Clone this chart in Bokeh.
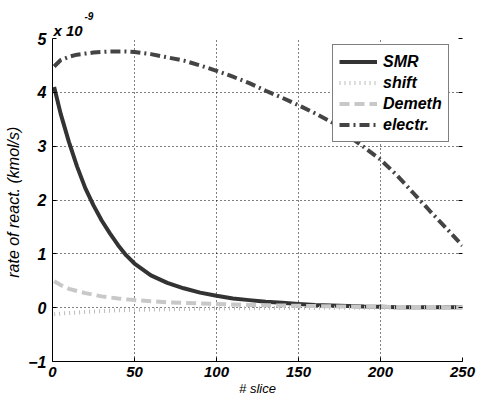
from bokeh.plotting import figure
from bokeh.models import Range1d, FixedTicker, LinearAxis, Legend, LegendItem, Title
from bokeh.embed import file_html
from bokeh.resources import INLINE

slices = [1, 5, 10, 15, 20, 25, 30, 35, 40, 45, 50, 60, 70, 80, 90, 100, 110, 120, 130,
          140, 150, 160, 170, 180, 190, 200, 210, 220, 230, 240, 250]
smr = [4.1, 3.6, 3.08, 2.62, 2.22, 1.9, 1.62, 1.38, 1.16, 0.97, 0.82, 0.6, 0.46, 0.36,
       0.28, 0.22, 0.17, 0.14, 0.11, 0.09, 0.07, 0.05, 0.04, 0.03, 0.02, 0.015, 0.01,
       0.01, 0.01, 0.01, 0.01]
shift = [-0.12, -0.11, -0.1, -0.09, -0.08, -0.072, -0.065, -0.057, -0.05, -0.045, -0.04,
         -0.035, -0.03, -0.025, -0.02, -0.015, -0.012, -0.01, -0.008, -0.006, -0.005,
         -0.004, -0.003, -0.002, -0.001, 0.0, 0.0, 0.0, 0.0, 0.0, 0.0]
demeth = [0.49, 0.42, 0.35, 0.31, 0.27, 0.24, 0.21, 0.19, 0.17, 0.155, 0.14, 0.12, 0.1,
          0.09, 0.08, 0.07, 0.06, 0.05, 0.045, 0.04, 0.035, 0.03, 0.025, 0.02, 0.018,
          0.015, 0.013, 0.012, 0.011, 0.01, 0.01]
electr = [4.48, 4.6, 4.66, 4.7, 4.72, 4.74, 4.75, 4.76, 4.76, 4.76, 4.75, 4.71, 4.65,
          4.59, 4.5, 4.4, 4.29, 4.17, 4.03, 3.9, 3.76, 3.61, 3.45, 3.2, 2.98, 2.75, 2.46,
          2.13, 1.8, 1.48, 1.15]
x_ticks = [0, 50, 100, 150, 200, 250]
y_ticks = [-1, 0, 1, 2, 3, 4, 5]

FONT = "Liberation Sans"

p = figure(width=478, height=398, output_backend="svg", toolbar_location=None,
           x_range=Range1d(0, 250), y_range=Range1d(-1, 5),
           min_border_left=52, min_border_right=16, min_border_top=38, min_border_bottom=37)
p.outline_line_color = None
p.background_fill_color = "white"
p.border_fill_color = "white"

# exponent label: "-9" as outer title, "x 10" as inner title
p.title.text = "-9"
p.title.text_font = FONT
p.title.text_font_style = "bold italic"
p.title.text_font_size = "10px"
p.title.text_color = "black"
p.title.align = "left"
p.title.offset = 32
p.title.standoff = 0

for ax, ticks in ((p.xaxis[0], x_ticks), (p.yaxis[0], y_ticks)):
    ax.ticker = FixedTicker(ticks=ticks)
    ax.major_tick_in = 4
    ax.major_tick_out = 0
    ax.minor_tick_line_color = None
    ax.axis_line_color = "black"
    ax.major_tick_line_color = "black"
    ax.major_label_text_font = FONT
    ax.major_label_text_font_style = "bold italic"
    ax.major_label_text_font_size = "16px"
    ax.major_label_text_color = "black"
    ax.axis_label_text_font = FONT
    ax.axis_label_text_font_style = "italic"
    ax.axis_label_text_color = "black"

p.xaxis.axis_label = "# slice"
p.xaxis.major_label_text_font_size = "15px"
p.xaxis.axis_label_text_font_size = "13px"
p.xaxis.major_label_standoff = 5
p.xaxis.axis_label_standoff = 1
p.yaxis.axis_label = "rate of react.  (kmol/s)"
p.yaxis.axis_label_text_font_size = "16px"
p.yaxis.major_label_standoff = 6
p.yaxis.axis_label_standoff = 3

right_ax = LinearAxis(ticker=FixedTicker(ticks=y_ticks), major_tick_in=4, major_tick_out=0,
                      minor_tick_line_color=None, axis_line_color=None,
                      major_label_text_font_size="0px", major_label_standoff=0)
right_ax.major_label_overrides = {t: "" for t in y_ticks}
p.add_layout(right_ax, "right")

p.add_layout(Title(text="x 10", text_font=FONT, text_font_style="bold italic",
                   text_font_size="15px", text_color="black", align="left",
                   offset=1, standoff=0), "above")

for g in (p.xgrid[0], p.ygrid[0]):
    g.grid_line_color = "black"
    g.grid_line_dash = "1 3"
    g.grid_line_width = 1
    g.grid_line_alpha = 1

r_smr = p.line(slices, smr, line_color="#333333", line_width=4)
r_shift = p.line(slices, shift, line_color="#bcbcbc", line_width=4, line_dash="1 4")
r_dem = p.line(slices, demeth, line_color="#c8c8c8", line_width=4, line_dash="10 5")
r_el = p.line(slices, electr, line_color="#444444", line_width=4, line_dash="10 4 2 4")

legend = Legend(items=[LegendItem(label="SMR", renderers=[r_smr]),
                       LegendItem(label="shift", renderers=[r_shift]),
                       LegendItem(label="Demeth", renderers=[r_dem]),
                       LegendItem(label="electr.", renderers=[r_el])],
                location=(280, 219))
legend.label_text_font = FONT
legend.label_text_font_style = "bold italic"
legend.label_text_font_size = "16px"
legend.label_text_color = "black"
legend.border_line_color = "black"
legend.border_line_width = 1
legend.background_fill_color = "white"
legend.background_fill_alpha = 1
legend.glyph_width = 38
legend.glyph_height = 21
legend.label_height = 21
legend.label_standoff = 6
legend.spacing = 0
legend.padding = 6
legend.margin = 0
p.add_layout(legend, "center")

open("out.html", "w").write(file_html(p, INLINE))
